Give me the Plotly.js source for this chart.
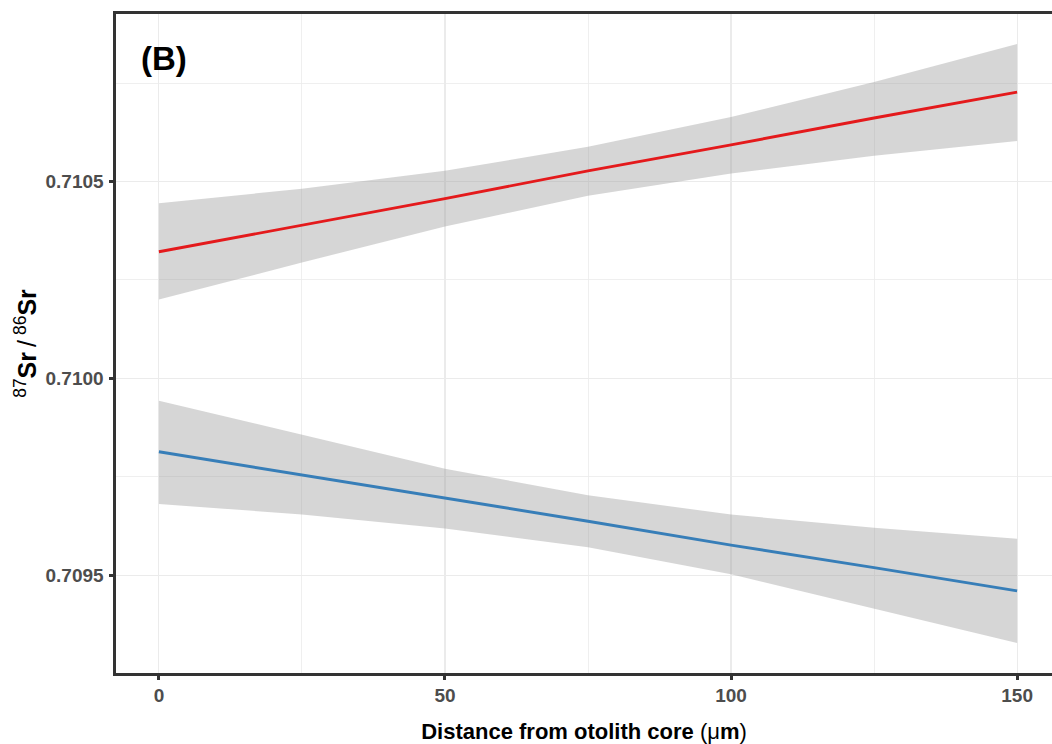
<!DOCTYPE html>
<html>
<head>
<meta charset="utf-8">
<script src="https://cdn.plot.ly/plotly-3.0.1.min.js"></script>
<style>
  html, body { margin: 0; padding: 0; background: #ffffff; overflow: hidden; }
  #chart { width: 1052px; height: 744px; }
</style>
</head>
<body>
<div id="chart"></div>
<script>
// Distance from the otolith core (µm) at which the fitted trends are evaluated
const distance = [0, 25, 50, 75, 100, 125, 150];

// Upper group: fitted 87Sr/86Sr and its confidence band
const redFit   = [0.7103215, 0.7103881, 0.7104565, 0.7105273, 0.7105932, 0.7106615, 0.7107273];
const redUpper = [0.7104446, 0.7104818, 0.7105273, 0.7105881, 0.7106640, 0.7107527, 0.7108496];
const redLower = [0.7102000, 0.7102944, 0.7103856, 0.7104640, 0.7105205, 0.7105653, 0.7106033];

// Lower group: fitted 87Sr/86Sr and its confidence band
const blueFit   = [0.7098134, 0.7097552, 0.7096962, 0.7096370, 0.7095762, 0.7095190, 0.7094598];
const blueUpper = [0.7099433, 0.7098565, 0.7097704, 0.7097028, 0.7096539, 0.7096203, 0.7095924];
const blueLower = [0.7096810, 0.7096539, 0.7096185, 0.7095711, 0.7095020, 0.7094152, 0.7093274];

// Axis ticks
const xTicks = [0, 50, 100, 150];
const yTicks = [0.7095, 0.7100, 0.7105];
const yTickText = ['0.7095', '0.7100', '0.7105'];

const bandFill = 'rgba(153,153,153,0.4)';
const FONT = '"Liberation Sans", Arial, Helvetica, sans-serif';

function bandPair(lower, upper) {
  return [
    { x: distance, y: lower, mode: 'lines', line: { width: 0 }, hoverinfo: 'skip', showlegend: false },
    { x: distance, y: upper, mode: 'lines', line: { width: 0 }, fill: 'tonexty',
      fillcolor: bandFill, hoverinfo: 'skip', showlegend: false }
  ];
}

const traces = [
  ...bandPair(redLower, redUpper),
  ...bandPair(blueLower, blueUpper),
  { x: distance, y: redFit, mode: 'lines', line: { color: '#e41a1c', width: 2.9 }, showlegend: false },
  { x: distance, y: blueFit, mode: 'lines', line: { color: '#377eb8', width: 2.9 }, showlegend: false }
];

const layout = {
  width: 1052,
  height: 744,
  margin: { l: 116, r: 0, t: 14, b: 71, pad: 0 },
  paper_bgcolor: '#ffffff',
  plot_bgcolor: '#ffffff',
  font: { family: FONT, color: '#000000' },
  showlegend: false,
  hovermode: false,
  xaxis: {
    range: [-7.5, 156.1],
    tickmode: 'array',
    tickvals: xTicks,
    ticktext: xTicks.map(String),
    ticks: 'outside', ticklen: 4, tickwidth: 3, tickcolor: '#333333',
    tickfont: { family: FONT, size: 19, color: '#4d4d4d', weight: 'bold' },
    showline: true, linecolor: '#333333', linewidth: 2.6, mirror: true,
    showgrid: true, gridcolor: '#ebebeb', gridwidth: 1.1,
    minor: { tickmode: 'array', tickvals: [25, 75, 125], showgrid: true,
             gridcolor: '#ebebeb', gridwidth: 0.8, ticks: '' },
    zeroline: false,
    title: { text: '<b>Distance from otolith core</b> (μ<b>m</b>)',
             font: { family: FONT, size: 22, color: '#000000' }, standoff: 18 }
  },
  yaxis: {
    range: [0.7092513, 0.7109257],
    tickmode: 'array',
    tickvals: yTicks,
    ticktext: yTickText,
    ticks: 'outside', ticklen: 4, tickwidth: 3, tickcolor: '#333333',
    tickfont: { family: FONT, size: 19, color: '#4d4d4d', weight: 'bold' },
    ticklabelstandoff: 2,
    showline: true, linecolor: '#333333', linewidth: 2.6, mirror: false,
    showgrid: true, gridcolor: '#ebebeb', gridwidth: 1.1,
    minor: { tickmode: 'array', tickvals: [0.70925, 0.70975, 0.71025, 0.71075], showgrid: true,
             gridcolor: '#ebebeb', gridwidth: 0.8, ticks: '' },
    zeroline: false,
    title: { text: '<sup>87</sup><b>Sr</b>\u2009/\u2009<sup>86</sup><b>Sr</b>',
             font: { family: FONT, size: 25, color: '#000000' }, standoff: 2 }
  },
  annotations: [
    { text: '<b>(B)</b>', xref: 'paper', yref: 'paper', x: 0.0245, y: 0.932,
      xanchor: 'left', yanchor: 'middle', showarrow: false,
      font: { family: FONT, size: 33, color: '#000000' } }
  ]
};

Plotly.newPlot('chart', traces, layout, { staticPlot: true, displayModeBar: false });
</script>
</body>
</html>
